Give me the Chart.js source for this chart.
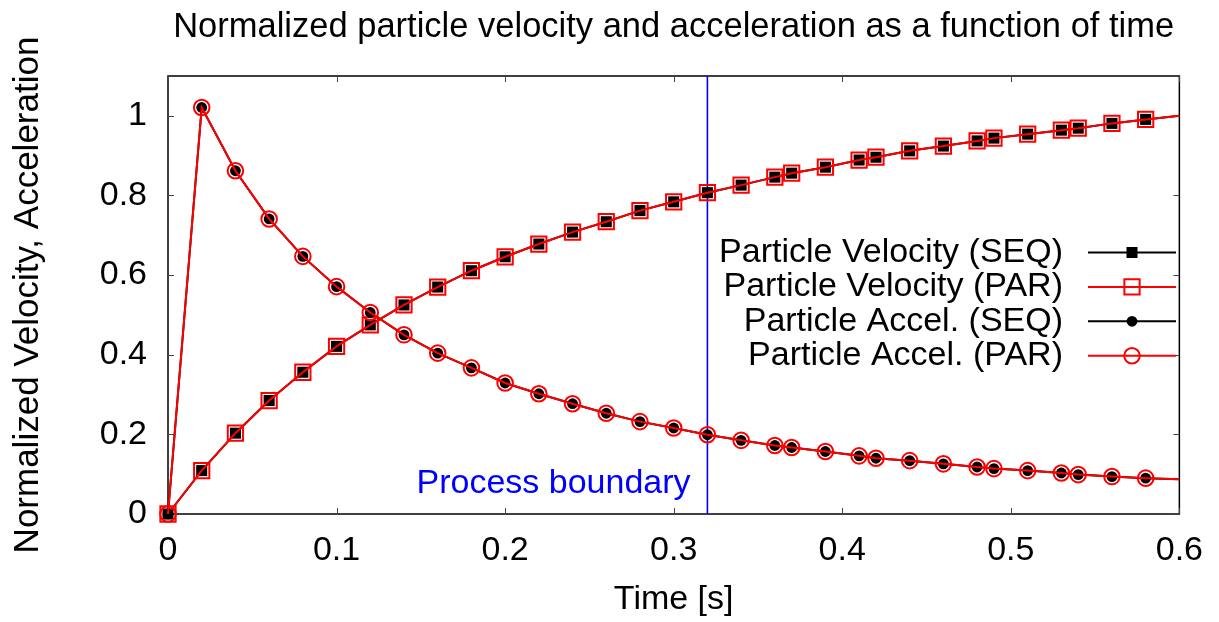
<!DOCTYPE html>
<html><head><meta charset="utf-8">
<script src="https://cdn.jsdelivr.net/npm/chart.js@4"></script>
<style>html,body{margin:0;padding:0;background:#fff}canvas{display:block}</style>
</head><body>
<canvas id="c" width="1219" height="622"></canvas>
<script>
// ---- data ----
const chartTitle = 'Normalized particle velocity and acceleration as a function of time';
const xAxisTitle = 'Time [s]';
const yAxisTitle = 'Normalized Velocity, Acceleration';
const time = [0, 0.02, 0.04, 0.06, 0.08, 0.10, 0.12, 0.14, 0.16, 0.18, 0.20, 0.22, 0.24, 0.26, 0.28, 0.30, 0.32, 0.34,
              0.36, 0.37, 0.39, 0.41, 0.42, 0.44, 0.46, 0.48, 0.49, 0.51, 0.53, 0.54, 0.56, 0.58, 0.60];
const velocitySeq = [0, 0.109, 0.203, 0.285, 0.356, 0.421, 0.475, 0.525, 0.570, 0.611, 0.646, 0.678, 0.708, 0.734, 0.762, 0.784, 0.807, 0.826,
                     0.846, 0.856, 0.871, 0.889, 0.896, 0.912, 0.924, 0.937, 0.944, 0.954, 0.964, 0.969, 0.981, 0.991, 1.000];
const velocityPar = [0, 0.109, 0.203, 0.285, 0.356, 0.421, 0.475, 0.525, 0.570, 0.611, 0.646, 0.678, 0.708, 0.734, 0.762, 0.784, 0.807, 0.826,
                     0.846, 0.856, 0.871, 0.889, 0.896, 0.912, 0.924, 0.937, 0.944, 0.954, 0.964, 0.969, 0.981, 0.991, 1.000];
const accelSeq = [0, 1.021, 0.862, 0.741, 0.647, 0.571, 0.506, 0.450, 0.404, 0.367, 0.329, 0.302, 0.277, 0.253, 0.232, 0.216, 0.199, 0.185,
                  0.172, 0.167, 0.157, 0.146, 0.140, 0.134, 0.126, 0.118, 0.114, 0.109, 0.103, 0.099, 0.094, 0.090, 0.087];
const accelPar = [0, 1.021, 0.862, 0.741, 0.647, 0.571, 0.506, 0.450, 0.404, 0.367, 0.329, 0.302, 0.277, 0.253, 0.232, 0.216, 0.199, 0.185,
                  0.172, 0.167, 0.157, 0.146, 0.140, 0.134, 0.126, 0.118, 0.114, 0.109, 0.103, 0.099, 0.094, 0.090, 0.087];
const seriesLabels = ['Particle Velocity (SEQ)', 'Particle Velocity (PAR)', 'Particle Accel. (SEQ)', 'Particle Accel. (PAR)'];
const xTickValues = [0, 0.1, 0.2, 0.3, 0.4, 0.5, 0.6];
const yTickValues = [0, 0.2, 0.4, 0.6, 0.8, 1];
const xRange = [0, 0.6];
const yRange = [0, 1.1];
const boundaryTime = 0.32;
const boundaryLabel = 'Process boundary';
const boundaryLabelAt = [0.31, 0.053];

// ---- styling ----
const FONT = '"Liberation Sans", Arial, Helvetica, sans-serif';
const FS = 34;
const pts = arr => arr.map((v, i) => ({x: time[i], y: v}));
const edgeHidden = r => ctx => (ctx.raw && ctx.raw.x >= xRange[1]) ? 0 : r;

const datasets = [
  {label: seriesLabels[0], data: pts(velocitySeq), borderColor: '#000', backgroundColor: '#000', borderWidth: 2,
   pointStyle: 'rect', pointRadius: edgeHidden(7.8), pointBackgroundColor: '#000', pointBorderColor: '#000', pointBorderWidth: 0, order: 4, legendRow: 0},
  {label: seriesLabels[1], data: pts(velocityPar), borderColor: '#ff0000', backgroundColor: 'rgba(0,0,0,0)', borderWidth: 2,
   pointStyle: 'rect', pointRadius: edgeHidden(10.8), pointBackgroundColor: 'rgba(0,0,0,0)', pointBorderColor: '#ff0000', pointBorderWidth: 2, order: 3, legendRow: 1},
  {label: seriesLabels[2], data: pts(accelSeq), borderColor: '#000', backgroundColor: '#000', borderWidth: 2,
   pointStyle: 'circle', pointRadius: edgeHidden(5.4), pointBackgroundColor: '#000', pointBorderColor: '#000', pointBorderWidth: 0, order: 2, legendRow: 2},
  {label: seriesLabels[3], data: pts(accelPar), borderColor: '#ff0000', backgroundColor: 'rgba(0,0,0,0)', borderWidth: 2,
   pointStyle: 'circle', pointRadius: edgeHidden(7.8), pointBackgroundColor: 'rgba(0,0,0,0)', pointBorderColor: '#ff0000', pointBorderWidth: 2, order: 1, legendRow: 3},
  {label: 'boundary', data: [{x: boundaryTime, y: yRange[0]}, {x: boundaryTime, y: yRange[1]}], borderColor: '#0000ff', borderWidth: 1.6,
   pointRadius: 0, order: 10}
];
datasets.forEach(d => { d.clip = false; d.tension = 0; d.fill = false; d.pointHoverRadius = d.pointRadius; });

const framePlugin = {
  id: 'frame',
  beforeDatasetsDraw(chart) {
    const {ctx, chartArea: a, scales: {x, y}} = chart;
    ctx.save();
    ctx.strokeStyle = '#000';
    ctx.lineWidth = 1.5;
    ctx.strokeRect(a.left, a.top, a.right - a.left, a.bottom - a.top);
    ctx.strokeStyle = '#444';
    ctx.lineWidth = 1;
    const L = 6;
    ctx.beginPath();
    xTickValues.forEach(v => {
      const px = Math.round(x.getPixelForValue(v)) + 0.5;
      ctx.moveTo(px, a.bottom); ctx.lineTo(px, a.bottom - L);
      ctx.moveTo(px, a.top); ctx.lineTo(px, a.top + L);
    });
    yTickValues.forEach(v => {
      const py = Math.round(y.getPixelForValue(v)) + 0.5;
      ctx.moveTo(a.left, py); ctx.lineTo(a.left + L, py);
      ctx.moveTo(a.right, py); ctx.lineTo(a.right - L, py);
    });
    ctx.stroke();
    // boundary label
    ctx.fillStyle = '#0000ff';
    ctx.font = FS + 'px ' + FONT;
    ctx.textAlign = 'right';
    ctx.textBaseline = 'alphabetic';
    ctx.fillText(boundaryLabel, x.getPixelForValue(boundaryLabelAt[0]), y.getPixelForValue(boundaryLabelAt[1]));
    ctx.restore();
  },
  afterDraw(chart) {
    const {ctx, chartArea: a} = chart;
    ctx.save();
    ctx.fillStyle = '#000';
    ctx.font = '34.5px ' + FONT;
    ctx.textAlign = 'center';
    ctx.textBaseline = 'alphabetic';
    ctx.fillText(chartTitle, (a.left + a.right) / 2, 37);
    // legend
    ctx.font = FS + 'px ' + FONT;
    const textRight = 1063, lineL = 1088, lineR = 1176, mark = 1132, row0 = 252.5, step = 34.4;
    chart.data.datasets.forEach((d, i) => {
      if (d.legendRow === undefined) return;
      const yy = row0 + step * d.legendRow;
      ctx.fillStyle = '#000';
      ctx.textAlign = 'right';
      ctx.textBaseline = 'middle';
      ctx.fillText(d.label, textRight, yy);
      ctx.strokeStyle = d.borderColor;
      ctx.lineWidth = 2;
      ctx.beginPath(); ctx.moveTo(lineL, yy); ctx.lineTo(lineR, yy); ctx.stroke();
      const el = chart.getDatasetMeta(i).data[1];
      const o = el.options;
      ctx.fillStyle = o.backgroundColor;
      ctx.strokeStyle = o.borderColor;
      ctx.lineWidth = o.borderWidth;
      Chart.helpers.drawPoint(ctx, {pointStyle: o.pointStyle, radius: o.radius, rotation: 0, borderWidth: o.borderWidth}, mark, yy);
    });
    ctx.restore();
  }
};

const tickFont = {family: FONT, size: FS};
const yTitleFont = {family: FONT, size: 35};
new Chart(document.getElementById('c'), {
  type: 'line',
  data: {datasets},
  options: {
    responsive: false,
    animation: false,
    events: [],
    layout: {padding: {left: 0, right: 39, top: 76, bottom: 0}},
    plugins: {legend: {display: false}, title: {display: false}, tooltip: {enabled: false}},
    scales: {
      x: {
        type: 'linear', min: xRange[0], max: xRange[1],
        afterBuildTicks: s => { s.ticks = xTickValues.map(v => ({value: v})); },
        afterFit: s => { s.height = 108; },
        grid: {display: false, drawTicks: false}, border: {display: false},
        ticks: {padding: 16, color: '#000', font: tickFont, maxRotation: 0, autoSkip: false, callback: v => String(v)},
        title: {display: true, text: xAxisTitle, color: '#000', font: tickFont, padding: {top: 0, bottom: 2}}
      },
      y: {
        type: 'linear', min: yRange[0], max: yRange[1],
        afterBuildTicks: s => { s.ticks = yTickValues.map(v => ({value: v})); },
        afterFit: s => { s.width = 168; },
        grid: {display: false, drawTicks: false}, border: {display: false},
        ticks: {padding: 21, color: '#000', font: tickFont, autoSkip: false, callback: v => String(v)},
        title: {display: true, text: yAxisTitle, color: '#000', font: yTitleFont, padding: {top: 7, bottom: 0}}
      }
    }
  },
  plugins: [framePlugin]
});
</script>
</body></html>
